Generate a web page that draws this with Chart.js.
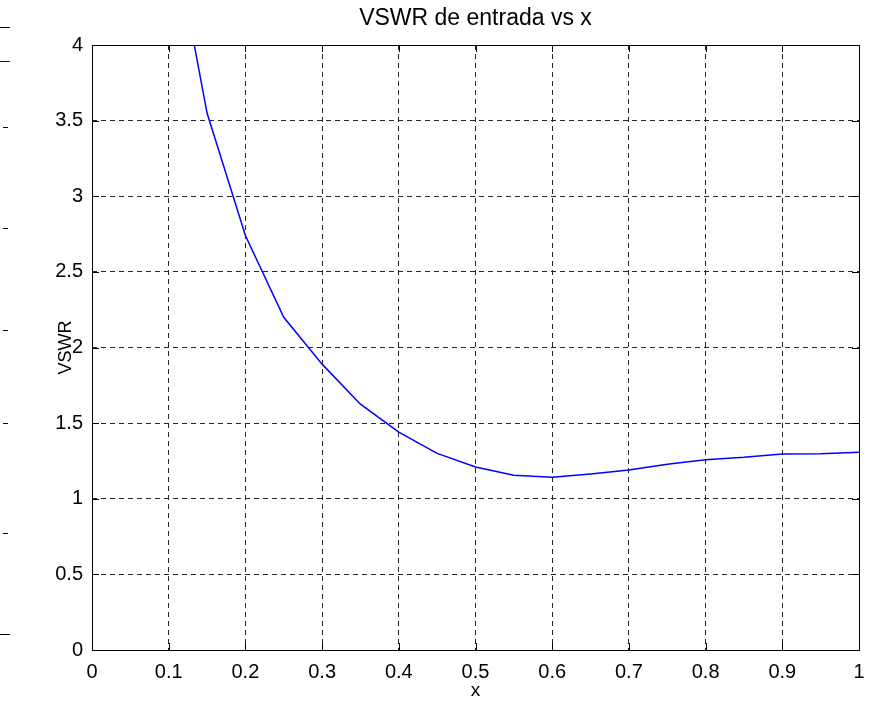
<!DOCTYPE html>
<html>
<head>
<meta charset="utf-8">
<script src="https://cdn.jsdelivr.net/npm/chart.js@4.4.1/dist/chart.umd.min.js"></script>
<style>
  html, body { margin: 0; padding: 0; background: #fff; }
  #wrap { width: 872px; height: 712px; }
</style>
</head>
<body>
<div id="wrap"><canvas id="vswrChart"></canvas></div>
<script>
'use strict';

// x samples and VSWR
const xValues = [0.1, 0.15, 0.2, 0.25, 0.3, 0.35, 0.4, 0.45, 0.5, 0.55, 0.6, 0.65, 0.7, 0.75, 0.8, 0.85, 0.9, 0.95, 1.0];
const vswrValues = [4.9, 3.55, 2.74, 2.2, 1.89, 1.625, 1.44, 1.3, 1.21, 1.155, 1.142, 1.164, 1.19, 1.228, 1.258, 1.274, 1.296, 1.298, 1.307];

const xTickLabels = ['0', '0.1', '0.2', '0.3', '0.4', '0.5', '0.6', '0.7', '0.8', '0.9', '1'];
const yTickLabels = ['0', '0.5', '1', '1.5', '2', '2.5', '3', '3.5', '4'];

const chartTitle = 'VSWR de entrada vs x';
const xTitle = 'x';
const yTitle = 'VSWR';

const gridDash = [5, 4];
const tickLen = 7;

Chart.defaults.font.family = "'Liberation Sans', Arial, sans-serif";
Chart.defaults.color = '#000';

// MATLAB style box, inward ticks and the cut-off marks on the far left
const matlabFrame = {
  id: 'matlabFrame',
  afterDraw(chart) {
    const { ctx, chartArea: a, scales } = chart;
    ctx.save();
    ctx.strokeStyle = '#000';
    ctx.lineWidth = 1;
    ctx.beginPath();
    scales.x.ticks.forEach(t => {
      const px = Math.round(scales.x.getPixelForValue(t.value)) + 0.5;
      ctx.moveTo(px, a.bottom); ctx.lineTo(px, a.bottom - tickLen);
      ctx.moveTo(px, a.top); ctx.lineTo(px, a.top + tickLen);
    });
    scales.y.ticks.forEach(t => {
      const py = Math.round(scales.y.getPixelForValue(t.value)) + 0.5;
      ctx.moveTo(a.left, py); ctx.lineTo(a.left + tickLen, py);
      ctx.moveTo(a.right, py); ctx.lineTo(a.right - tickLen, py);
    });
    ctx.stroke();
    ctx.strokeRect(Math.round(a.left) + 0.5, Math.round(a.top) + 0.5,
                   Math.round(a.right - a.left), Math.round(a.bottom - a.top));

    // fragments of a neighbouring figure at the left edge
    ctx.beginPath();
    ctx.moveTo(0, 27.5); ctx.lineTo(10, 27.5);
    ctx.moveTo(0, 634.5); ctx.lineTo(10, 634.5);
    [127, 228, 330, 423, 533].forEach(y => { ctx.moveTo(3, y + 0.5); ctx.lineTo(8, y + 0.5); });
    ctx.stroke();
    ctx.strokeStyle = '#0000ff';
    ctx.beginPath();
    ctx.moveTo(0, 61.5); ctx.lineTo(10, 61.5);
    ctx.stroke();
    ctx.restore();
  }
};

const edgeless = (ctx, min, max) => (ctx.tick && (ctx.tick.value === min || ctx.tick.value === max)) ? 'rgba(0,0,0,0)' : '#262626';

new Chart(document.getElementById('vswrChart'), {
  type: 'line',
  data: {
    datasets: [{
      label: yTitle,
      data: xValues.map((x, i) => ({ x: x, y: vswrValues[i] })),
      borderColor: '#0000ff',
      borderWidth: 1.5,
      pointRadius: 0,
      tension: 0,
      fill: false
    }]
  },
  options: {
    responsive: true,
    maintainAspectRatio: false,
    animation: false,
    layout: { padding: 0 },
    plugins: {
      legend: { display: false },
      tooltip: { enabled: false },
      title: {
        display: true,
        fullSize: false,
        text: chartTitle,
        color: '#000',
        font: { size: 23, weight: 'normal' },
        padding: { top: 5, bottom: 12.4 }
      }
    },
    scales: {
      x: {
        type: 'linear',
        min: 0, max: 1,
        afterFit: s => { s.height = 62; s.paddingLeft = 0; s.paddingRight = 13; },
        ticks: {
          stepSize: 0.1,
          padding: 10,
          color: '#000',
          font: { size: 20 },
          maxRotation: 0,
          callback: v => xTickLabels[Math.round(v * 10)]
        },
        grid: {
          color: c => edgeless(c, 0, 1),
          drawTicks: false
        },
        border: { display: false, dash: gridDash },
        title: {
          display: true,
          text: xTitle,
          color: '#000',
          font: { size: 19 },
          padding: { top: 0, bottom: 10 }
        }
      },
      y: {
        min: 0, max: 4,
        afterFit: s => { s.width = 92; },
        ticks: {
          stepSize: 0.5,
          padding: 9,
          color: '#000',
          font: { size: 20 },
          callback: v => yTickLabels[Math.round(v * 2)]
        },
        grid: {
          color: c => edgeless(c, 0, 4),
          drawTicks: false
        },
        border: { display: false, dash: gridDash },
        title: {
          display: true,
          text: yTitle,
          color: '#000',
          font: { size: 18 },
          padding: { top: 55, bottom: 0 }
        }
      }
    }
  },
  plugins: [matlabFrame]
});
</script>
</body>
</html>
